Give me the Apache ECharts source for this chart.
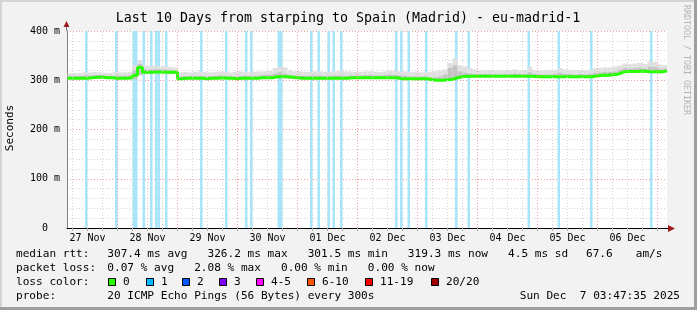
<!DOCTYPE html>
<html><head><meta charset="utf-8">
<script src="https://cdn.jsdelivr.net/npm/echarts@6/dist/echarts.min.js"></script>
<style>html,body{margin:0;padding:0;background:#f2f2f2}#c{width:697px;height:310px}</style>
</head><body><div id="c"></div>
<script>
// x axis unit: hours since 27 Nov 00:00
const START_H = 3.793;   // 27 Nov 03:47:35
const END_H = 243.793;   // 07 Dec 03:47:35
const SLOT_START = 4, SLOT_HOURS = 2;
const dayLabels = ['27 Nov','28 Nov','29 Nov','30 Nov','01 Dec','02 Dec','03 Dec','04 Dec','05 Dec','06 Dec'];
const yTickLabels = {0:'0  ',100:'100 m',200:'200 m',300:'300 m',400:'400 m'};

const median = [304,304,304,304,305,306,306,305,305,304,304,304,305,
 310,326,316,316,317,317,316,316,316,
 303,304,304,304,304,303,304,304,305,304,304,303,304,304,304,304,305,305,305,
 307,307,307,306,305,
 304,304,304,304,304,304,304,304,304,304,305,305,305,305,305,305,305,305,305,305,303,303,303,303,303,303,
 301,300,300,301,302,
 305,307,308,
 308,308,308,308,308,308,308,308,308,308,308,308,308,
 307,307,307,307,307,307,307,307,307,307,307,307,
 309,310,310,311,312,
 316,
 318,318,318,319,318,317,318,317,319];
const smokeMin = [302,302,302,302,303,303,303,303,303,302,302,302,302,
 302,310,313,313,314,314,313,313,313,
 301,302,302,302,302,301,302,302,302,302,302,301,302,302,302,302,303,303,303,
 304,304,304,303,303,
 302,302,302,302,302,302,302,302,302,302,303,303,303,303,303,303,303,303,303,303,301,301,301,301,301,301,
 299,298,298,299,299,
 302,304,305,
 306,306,306,306,306,306,306,306,306,306,306,306,306,
 305,305,305,305,305,305,305,305,305,305,305,305,
 306,307,307,308,309,
 311,
 315,315,315,316,315,314,315,314,316];
const smokeMid = [309,309,309,310,310,311,311,310,310,309,309,310,310,
 320,333,322,322,323,322,322,321,320,
 308,309,309,309,309,308,309,309,310,309,309,308,309,309,309,309,310,311,311,
 314,316,314,311,310,
 309,309,309,310,310,309,309,310,310,309,310,310,310,311,311,310,310,311,312,311,310,310,308,308,308,308,
 306,306,308,312,325,
 330,318,316,
 314,313,313,313,313,312,312,313,313,314,313,313,316,
 313,312,312,312,313,315,313,313,312,313,312,313,
 315,316,317,317,318,
 322,
 325,324,325,326,324,328,327,324,324];
const smokeMax = [314,315,315,316,316,317,316,315,315,316,316,316,317,
 331,341,330,329,330,328,329,327,326,
 316,317,316,317,318,317,316,317,318,317,316,317,318,317,316,317,318,318,319,
 325,327,326,320,318,
 318,317,317,318,318,317,317,318,319,318,318,317,317,318,318,317,317,318,320,319,318,318,317,317,316,316,
 317,318,320,322,335,
 345,330,328,
 325,322,320,320,321,320,320,320,321,322,320,321,327,
 321,320,320,320,321,325,322,321,320,321,320,321,
 324,325,326,326,328,
 330,
 334,333,334,335,333,338,337,332,331];
// hours (since 27 Nov 00:00) with packet loss (1 of 20)
const lossHours = [11,23,30,31,34,37,39,40,43,57,67,75,77,88,89,101,104,108,110,113,135,137,140,147,159,164,188,200,213,237];

const lossLegend = ['0','1','2','3','4-5','6-10','11-19','20/20'];
const lossColors = ['#26ff00','#00b8ff','#0059ff','#7e00ff','#ff00ff','#ff5500','#ff0000','#a10000'];
const statsRtt = ['307.4 ms avg','326.2 ms max','301.5 ms min','319.3 ms now','4.5 ms sd'];
const statsAmps = '67.6';
const statsLoss = ['0.07 % avg','2.08 % max','0.00 % min','0.00 % now'];
const probeText = '20 ICMP Echo Pings (56 Bytes) every 300s';
const stampText = 'Sun Dec  7 03:47:35 2025';
const titleText = 'Last 10 Days from starping to Spain (Madrid) - eu-madrid-1';

const MONO = '"DejaVu Sans Mono", monospace';

function slotStart(i) { return SLOT_START + SLOT_HOURS * i; }
function slotEnd(i) { return i === median.length - 1 ? END_H : SLOT_START + SLOT_HOURS * (i + 1); }

const medianPairs = median.map((v, i) => [slotStart(i), v]);
medianPairs.push([END_H, median[median.length - 1]]);
const smokeData = median.map((v, i) => [slotStart(i), slotEnd(i), smokeMin[i], smokeMid[i], smokeMax[i]]);

const noonHours = dayLabels.map((d, i) => 12 + 24 * i);
const gridHours = [];
for (let h = 6; h < END_H; h += 6) gridHours.push(h);

const chart = echarts.init(document.getElementById('c'), null, {renderer: 'canvas'});

const graphics = [];
graphics.push({type:'rect', shape:{x:0,y:0,width:697,height:2}, style:{fill:'#d4d4d4'}, silent:true});
graphics.push({type:'rect', shape:{x:0,y:0,width:2,height:310}, style:{fill:'#d4d4d4'}, silent:true});
graphics.push({type:'rect', shape:{x:694,y:0,width:3,height:310}, style:{fill:'#9e9e9e'}, silent:true});
graphics.push({type:'rect', shape:{x:0,y:307,width:697,height:3}, style:{fill:'#9e9e9e'}, silent:true});
graphics.push({type:'text', x:348, y:19, style:{text:titleText, font:'13.3px ' + MONO, fill:'#000', align:'center', verticalAlign:'middle'}});
graphics.push({type:'text', x:10, y:128, rotation:Math.PI/2, style:{text:'Seconds', font:'11px ' + MONO, fill:'#000', align:'center', verticalAlign:'middle'}});
graphics.push({type:'text', x:686, y:60, rotation:-Math.PI/2, style:{text:'RRDTOOL / TOBI OETIKER', font:'8.3px ' + MONO, fill:'#b4b4b4', align:'center', verticalAlign:'middle'}});
graphics.push({type:'line', shape:{x1:66.5,y1:24,x2:66.5,y2:31}, style:{stroke:'#808080', lineWidth:1}});
graphics.push({type:'polygon', shape:{points:[[63.5,27],[69.5,27],[66.5,21]]}, style:{fill:'#9b1c1c'}});
graphics.push({type:'line', shape:{x1:667,y1:228.5,x2:670,y2:228.5}, style:{stroke:'#000', lineWidth:1}});
graphics.push({type:'polygon', shape:{points:[[668,225],[668,232],[675,228.5]]}, style:{fill:'#9b1c1c'}});
const F = '11.1px ' + MONO;
function txt(t, x, y, align) {
  graphics.push({type:'text', x:x, y:y, style:{text:t, font:F, fill:'#000', align:align||'left', verticalAlign:'middle'}});
}
txt('median rtt:', 16, 254);
txt(statsRtt.join('   '), 107.3, 254);
txt(statsAmps, 586, 254);
txt('am/s', 635.7, 254);
txt('packet loss:', 16, 268.5);
txt(statsLoss.join('   '), 107.3, 268.5);
txt('loss color:', 16, 282);
const boxX = [108, 146, 182, 219, 256, 307, 365, 431];
lossLegend.forEach((l, i) => {
  graphics.push({type:'rect', shape:{x:boxX[i]+0.5, y:278.5, width:7, height:7}, style:{fill:lossColors[i], stroke:'#000', lineWidth:1}});
  txt(l, boxX[i] + 15, 282);
});
txt('probe:', 16, 296.5);
txt(probeText, 107.3, 296.5);
txt(stampText, 680, 296.5, 'right');

const dummy = [[START_H, 0]];

const option = {
  backgroundColor: '#f2f2f2',
  animation: false,
  grid: {left: 67, right: 30, top: 31, bottom: 82, show: true, backgroundColor: '#ffffff', borderWidth: 0},
  xAxis: {
    type: 'value', min: START_H, max: END_H,
    axisLine: {show: true, onZero: false, lineStyle: {color: '#000', width: 1}},
    axisTick: {show: true, customValues: gridHours, length: 3, lineStyle: {color: '#b0b0b0'}},
    axisLabel: {customValues: noonHours, formatter: v => dayLabels[Math.round((v - 12) / 24)],
      fontFamily: MONO, fontSize: 10, color: '#000', margin: 5},
    splitLine: {show: false}
  },
  yAxis: {
    type: 'value', min: 0, max: 400, interval: 100,
    axisLine: {show: true, lineStyle: {color: '#808080', width: 1}},
    axisTick: {show: false},
    axisLabel: {formatter: v => yTickLabels[v], fontFamily: MONO, fontSize: 10, color: '#000', margin: 7},
    splitLine: {show: true, lineStyle: {color: '#f2a0a0', type: [1, 2], width: 1}},
    minorTick: {show: false, splitNumber: 5},
    minorSplitLine: {show: true, lineStyle: {color: '#d4d4d4', type: [1, 2], width: 1}}
  },
  visualMap: {
    type: 'piecewise', show: false, dimension: 0, seriesIndex: 3,
    pieces: lossHours.map(h => ({gte: h, lt: h + 1, color: lossColors[1]})),
    outOfRange: {color: lossColors[0]}
  },
  series: [
    { // loss stripes
      type: 'line', data: dummy, symbol: 'none', lineStyle: {opacity: 0}, silent: true, z: 1,
      markArea: {silent: true, itemStyle: {color: '#a8e4fa'},
        data: lossHours.map(h => [{xAxis: h}, {xAxis: h + 1}])}
    },
    { // vertical grid
      type: 'line', data: dummy, symbol: 'none', lineStyle: {opacity: 0}, silent: true, z: 2,
      markLine: {silent: true, symbol: ['none', 'none'], label: {show: false},
        data: gridHours.map(h => ({xAxis: h, lineStyle: {color: h % 24 === 0 ? '#f2a0a0' : '#d4d4d4', type: [1, 2], width: 1}}))}
    },
    { // smoke
      type: 'custom', data: smokeData, silent: true, z: 3,
      encode: {x: [0, 1], y: [2, 3, 4]},
      renderItem: function (params, api) {
        const a = api.coord([api.value(0), api.value(2)]);
        const b = api.coord([api.value(1), api.value(3)]);
        const c = api.coord([api.value(1), api.value(4)]);
        return {type: 'group', children: [
          {type: 'rect', shape: {x: a[0], y: c[1], width: b[0] - a[0], height: b[1] - c[1]}, style: {fill: '#e0e0e0'}},
          {type: 'rect', shape: {x: a[0], y: b[1], width: b[0] - a[0], height: a[1] - b[1]}, style: {fill: '#c4c4c4'}}
        ]};
      }
    },
    {type: 'line', data: medianPairs, step: 'end', symbol: 'none', lineStyle: {width: 3, color: lossColors[0]}, silent: true, z: 4}
  ],
  graphic: graphics
};
chart.setOption(option);
</script></body></html>
